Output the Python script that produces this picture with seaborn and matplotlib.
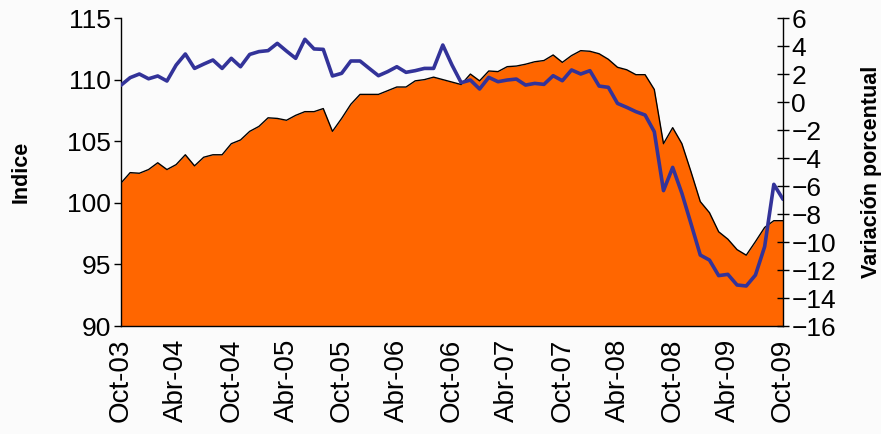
import matplotlib
matplotlib.use("Agg")
import matplotlib.pyplot as plt
import seaborn as sns
import pandas as pd
import numpy as np

sns.set_theme(style="white")
plt.rcParams["font.family"] = ["Liberation Sans", "DejaVu Sans"]
plt.rcParams["text.color"] = "black"
plt.rcParams["axes.labelcolor"] = "black"

# monthly values, Oct-03 .. Oct-09
indice = [
    101.6, 102.45, 102.4, 102.7, 103.25, 102.7, 103.1, 103.9, 103.0, 103.7,
    103.9, 103.9, 104.8, 105.1, 105.8, 106.2, 106.9, 106.85, 106.7, 107.1,
    107.4, 107.4, 107.65, 105.8, 106.85, 108.0, 108.8, 108.8, 108.8, 109.1,
    109.4, 109.4, 109.9, 110.0, 110.2, 110.0, 109.8, 109.6, 110.45, 109.9,
    110.7, 110.65, 111.05, 111.1, 111.25, 111.45, 111.55, 112.0, 111.4, 111.95,
    112.35, 112.3, 112.1, 111.65, 111.0, 110.8, 110.4, 110.4, 109.2, 104.8,
    106.1, 104.8, 102.5, 100.1, 99.2, 97.65, 97.05, 96.2, 95.75, 96.85,
    98.0, 98.55, 98.55,
]
variacion = [
    1.2, 1.74, 2.0, 1.66, 1.86, 1.5, 2.64, 3.43, 2.4, 2.71,
    3.0, 2.4, 3.12, 2.52, 3.4, 3.6, 3.67, 4.19, 3.64, 3.12,
    4.48, 3.79, 3.76, 1.86, 2.05, 2.93, 2.93, 2.4, 1.88, 2.17,
    2.52, 2.12, 2.24, 2.4, 2.4, 4.07, 2.64, 1.38, 1.57, 0.93,
    1.76, 1.45, 1.57, 1.64, 1.21, 1.33, 1.26, 1.88, 1.52, 2.29,
    2.0, 2.24, 1.14, 1.05, -0.1, -0.38, -0.69, -0.93, -2.12, -6.33,
    -4.67, -6.52, -8.71, -10.93, -11.29, -12.4, -12.31, -13.07, -13.14, -12.36,
    -10.33, -5.88, -6.95,
]
tick_labels = ["Oct-03", "Abr-04", "Oct-04", "Abr-05", "Oct-05", "Abr-06", "Oct-06",
               "Abr-07", "Oct-07", "Abr-08", "Oct-08", "Abr-09", "Oct-09"]

df = pd.DataFrame({"mes": np.arange(len(indice)), "indice": indice, "variacion": variacion})

fig = plt.figure(figsize=(8.81, 4.34), dpi=100, facecolor="#fbfbfb")
ax = fig.add_axes([0.1373, 0.2488, 0.7515, 0.7097])
ax.set_facecolor("none")

ax.fill_between(df["mes"], 90, df["indice"], color="#ff6600", linewidth=0, zorder=1)
sns.lineplot(data=df, x="mes", y="indice", ax=ax, color="black", linewidth=1, zorder=2)
ax.set_xlim(0, len(indice) - 1)
ax.set_ylim(90, 115)
ax.set_yticks(range(90, 116, 5))
ax.set_xticks(range(0, len(indice), 6))
ax.set_xticklabels(tick_labels, rotation=90)
ax.set_xlabel("")
ax.set_ylabel("Indice", fontsize=15.5, fontweight="bold", labelpad=26)
ax.tick_params(axis="both", length=5, width=1, color="black",
               direction="out", labelcolor="black")
ax.tick_params(axis="x", labelsize=20, pad=4)
ax.tick_params(axis="y", labelsize=19, pad=2)

ax2 = ax.twinx()
sns.lineplot(data=df, x="mes", y="variacion", ax=ax2, color="#333399", linewidth=2.6, zorder=3)
ax2.set_ylim(-16, 6)
ax2.set_yticks(range(-16, 7, 2))
ax2.set_ylabel("Variación porcentual", fontsize=15.5, fontweight="bold", labelpad=18)
ax2.tick_params(axis="y", labelsize=19, length=8, width=1, color="black",
                direction="inout", pad=2, labelcolor="black")

for a in (ax, ax2):
    a.spines["top"].set_visible(False)
    for s in ("left", "right", "bottom"):
        a.spines[s].set_color("black")
        a.spines[s].set_linewidth(1)
ax.spines["right"].set_visible(False)
ax2.spines["left"].set_visible(False)
ax2.spines["bottom"].set_visible(False)
ax.grid(False)
ax2.grid(False)

fig.savefig("out.png", dpi=100, facecolor=fig.get_facecolor())
